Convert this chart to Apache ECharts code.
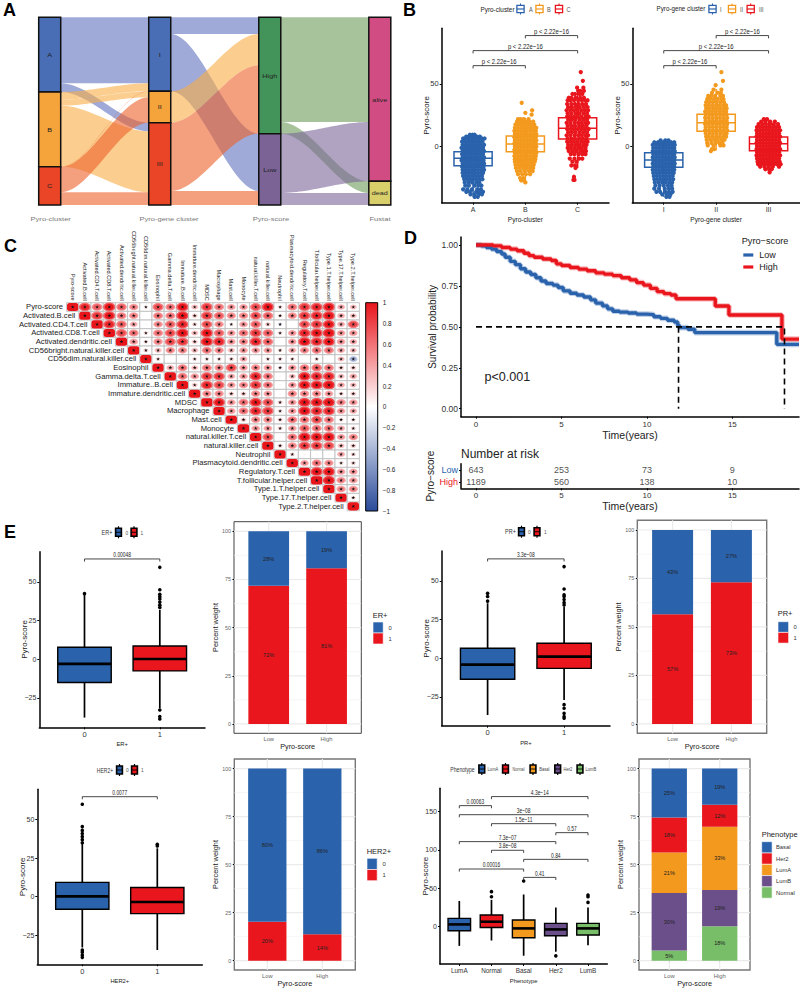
<!DOCTYPE html>
<html><head><meta charset="utf-8">
<style>html,body{margin:0;padding:0;background:#fff}#c{width:800px;height:988px}</style>
<script src="https://cdn.jsdelivr.net/npm/echarts@6/dist/echarts.min.js"></script></head>
<body><div id="c"></div>
<script>
// ---------- DATA ----------
const strata=[['A','B','C'],['I','II','III'],['High','Low'],['alive','dead']];
const stratumTitles=['Pyro-cluster','Pyro-gene cluster','Pyro-score','Fustat'];
const flowsClusterGene=[['A','I',198],['A','III',26],['B','I',23],['B','II',18],['B','III',183],['C','I',1],['C','II',76],['C','III',38]];
const flowsGeneScore=[['I','High',50],['I','Low',172],['II','High',94],['III','High',205],['III','Low',42]];
const flowsScoreFustat=[['High','alive',314],['High','dead',35],['Low','alive',178],['Low','dead',36]];

// jittered points, rows of [score,[jitter offsets in 1/100 category]]
const cloudA=[[9.5,[-6,-1,3]],[8,[-13,-8,-3,2,7,13]],[6.5,[-19,-15,-9,-4,1,6,12,17,22]],[4,[-21,-16,-10,-5,1,7,12,18]],[1.5,[-20,-14,-8,-2,4,10,15,21]],[-1,[-22,-17,-11,-5,1,7,13,19]],[-3.5,[-20,-14,-8,-2,4,10,16,21]],[-6,[-21,-16,-10,-4,2,8,14,19]],[-8.5,[-20,-14,-8,-2,4,10,16,21]],[-11,[-22,-16,-10,-4,2,8,14,20]],[-13.5,[-20,-14,-8,-2,4,10,16,21]],[-16,[-21,-15,-9,-3,3,9,15,20]],[-18.5,[-20,-14,-8,-2,4,10,16,21]],[-21,[-20,-15,-9,-3,3,9,15,19]],[-23.5,[-19,-13,-7,-1,5,11,17]],[-26,[-17,-11,-5,1,7,13,18]],[-28.5,[-16,-9,-2,6,12]],[-31,[-15,-8,3,10,16]],[-34,[-19,-11,-2,8,15]],[-36,[-13,-6,6,12,19]],[-38,[-5,3,11,17]],[-40,[3,9]]];
const cloudB=[[35,[-7]],[29,[13]],[27,[0]],[25.5,[12]],[22,[-14,-9,-3,6]],[20,[-16,-10,-4,2,8,15]],[17.5,[-19,-13,-7,-1,5,11,17]],[15,[-20,-14,-8,-2,4,10,16,21]],[12.5,[-21,-15,-9,-3,3,9,15,20]],[10,[-20,-14,-8,-2,4,10,16,21]],[7.5,[-21,-15,-9,-3,3,9,15,20]],[5,[-20,-14,-8,-2,4,10,16,21]],[2.5,[-21,-15,-9,-3,3,9,15,20]],[0,[-20,-14,-8,-2,4,10,16,21]],[-2.5,[-21,-15,-9,-3,3,9,15,20]],[-5,[-20,-14,-8,-2,4,10,16,21]],[-7.5,[-21,-15,-9,-3,3,9,15,20]],[-10,[-20,-14,-8,-2,4,10,16,19]],[-12,[-20,-15,-9,-3,3,9,15,18]],[-14.5,[-19,-13,-7,-1,5,11,16]],[-17,[-18,-11,-4,3,10,15]],[-19.5,[-16,-9,-1,7,14]],[-22,[-14,-6,1,9]],[-25,[-10,-4]],[-27,[-8,-3]],[-28.5,[0]]];
const cloudC=[[59.5,[6]],[52.5,[10]],[47,[-1,11]],[44.5,[1,5,12]],[42,[-10,-5,4,9]],[39,[-17,-12,-4,5,12]],[37,[-19,-14,-7,1,8,14,19]],[34,[-20,-12,-5,2,9,16]],[31.5,[-18,-11,-3,4,12,19]],[29,[-21,-14,-7,0,7,14,20]],[26.5,[-19,-12,-4,3,11,18]],[24,[-20,-14,-7,0,7,15,21]],[21.5,[-18,-11,-4,4,11,18]],[19,[-21,-14,-6,1,8,15,20]],[16.5,[-19,-12,-5,3,10,17]],[14,[-20,-13,-7,0,7,14,21]],[11.5,[-18,-11,-4,4,11,18]],[9,[-21,-14,-6,1,8,15,20]],[6.5,[-19,-12,-5,3,10,17]],[4,[-20,-13,-7,0,7,14,19]],[1.5,[-18,-11,-4,4,11,17]],[-1,[-19,-13,-6,1,8,15]],[-3.5,[-17,-10,-3,5,12,16]],[-6,[-13,-6,2,9,15]],[-9.5,[-15,-6,3,9]],[-12,[-10,-2]],[-15,[-12,-5]],[-17,[-4]],[-24,[-7]],[-26.5,[-8,-6]]];
const cloudI=[[5,[-6,3,9]],[3.5,[-18,-11,-4,2,8,14,20]],[1.5,[-21,-15,-9,-3,3,9,15,21]],[-1,[-20,-14,-8,-2,4,10,16,20]],[-3.5,[-21,-15,-9,-3,3,9,15,21]],[-6,[-20,-14,-8,-2,4,10,16,20]],[-8.5,[-21,-15,-9,-3,3,9,15,21]],[-11,[-20,-14,-8,-2,4,10,16,20]],[-13.5,[-21,-15,-9,-3,3,9,15,21]],[-16,[-20,-14,-8,-2,4,10,16,20]],[-18.5,[-21,-15,-9,-3,3,9,15,20]],[-21,[-20,-14,-8,-2,4,10,16,19]],[-23.5,[-19,-13,-7,-1,5,11,17]],[-26,[-18,-12,-6,0,6,12,18]],[-28.5,[-17,-10,-3,4,11,16]],[-31,[-16,-8,0,8,15]],[-33.5,[-18,-9,2,10,16]],[-36,[-14,-7,3,10,17]],[-38,[-3,6,13]],[-40,[5,11]]];
const cloudII=[[59.5,[10]],[52.5,[13]],[49,[-1]],[45.5,[-5,10]],[43,[-8,3,9]],[40.5,[-15,-9,-2,8,13]],[38,[-17,-11,-4,3,10,14]],[35.5,[-19,-13,-6,1,8,15]],[33,[-20,-14,-7,0,7,14,19]],[30.5,[-19,-12,-5,2,9,16,20]],[28,[-21,-15,-8,-1,6,13,19]],[25.5,[-20,-13,-6,1,8,15,20]],[23,[-21,-14,-7,0,7,14,21]],[20.5,[-20,-13,-6,1,8,15,20]],[18,[-21,-14,-7,0,7,14,21]],[15.5,[-20,-13,-6,1,8,15,20]],[13,[-21,-14,-7,0,7,14,21]],[10.5,[-20,-13,-6,1,8,15,20]],[8,[-19,-14,-7,0,7,14,19]],[5.5,[-18,-11,-4,3,10,16]],[3,[-17,-9,-1,6,12]],[1,[-16,-5,8,14]],[-2,[-8,-4]],[-3.5,[-10]]];
const cloudIII=[[22,[-9,-3]],[20,[-14,-6,3,12]],[18,[-19,-12,-5,3,10,18]],[15.5,[-22,-16,-10,-4,2,8,14,20]],[13,[-23,-17,-11,-5,1,7,13,19,22]],[10.5,[-22,-16,-10,-4,2,8,14,20]],[8,[-23,-17,-11,-5,1,7,13,19,22]],[5.5,[-22,-16,-10,-4,2,8,14,20]],[3,[-23,-17,-11,-5,1,7,13,19,22]],[0.5,[-22,-16,-10,-4,2,8,14,20]],[-2,[-23,-17,-11,-5,1,7,13,19,22]],[-4.5,[-22,-16,-10,-4,2,8,14,20]],[-7,[-23,-17,-11,-5,1,7,13,19,22]],[-9.5,[-22,-16,-10,-4,2,8,14,20]],[-12,[-21,-15,-9,-3,3,9,15,21]],[-14,[-20,-14,-8,-2,4,10,16,23]],[-16,[-16,-8,0,8,20]],[-18,[-6,1,6]],[-20.5,[2]]];
// box stats: [whisker low, q1, median, q3, whisker high]
const clusterBoxes=[[-40,-15.2,-9.3,-4,9.5],[-28,-4,2.1,8.5,23],[-17,6.1,14.6,23.1,45]];
const geneBoxes=[[-40,-16.5,-10.6,-4.8,5],[-3,12.2,19.1,25.8,46],[-19,-3.2,2.4,7.7,21]];
const clusterTickNames=['A','B','C'], geneTickNames=['I','II','III'];
const pLabel='p < 2.22e\u221216';

const corrNames=['Pyro-score','Activated.B.cell','Activated.CD4.T.cell','Activated.CD8.T.cell','Activated.dendritic.cell','CD56bright.natural.killer.cell','CD56dim.natural.killer.cell','Eosinophil','Gamma.delta.T.cell','Immature..B.cell','Immature.dendritic.cell','MDSC','Macrophage','Mast.cell','Monocyte','natural.killer.T.cell','natural.killer.cell','Neutrophil','Plasmacytoid.dendritic.cell','Regulatory.T.cell','T.follicular.helper.cell','Type.1.T.helper.cell','Type.17.T.helper.cell','Type.2.T.helper.cell'];
const corrRows=[
[1,.6,.45,.65,.45,.35,.08,.5,.4,.65,.2,.55,.4,.3,.3,.5,.65,.1,.4,.55,.6,.65,.25,.2],
[1,.55,.65,.4,.35,0,.4,.4,.7,.15,.55,.45,.35,.35,.5,.45,.1,.35,.55,.6,.7,.25,.2],
[1,.6,.45,.25,.02,.35,.45,.6,.12,.5,.35,.08,.3,.45,.15,-.1,0,.5,.55,.65,.25,.5],
[1,.5,.4,.1,.4,.5,.7,.2,.65,.45,.3,.4,.55,.45,.1,.3,.6,.65,.75,.3,.3],
[1,.3,.1,.35,.5,.55,.15,.7,.6,.3,.35,.6,.45,0,.3,.7,.6,.65,.3,.25],
[1,.12,.2,.35,.35,.2,.4,.35,.2,.3,.3,.3,.1,.25,.35,.4,.4,.25,.2],
[1,.1,0,0,.1,.1,.1,.12,.25,0,.1,.1,.1,0,.1,0,.2,-.3],
[1,.25,.4,.2,.4,.35,.5,.3,.35,.3,.1,.3,.4,.45,.4,.15,.15],
[1,.4,.3,.55,.55,.25,.3,.6,.4,.02,.2,.65,.6,.6,.2,.25],
[1,.15,.6,.5,.3,.35,.55,.4,.02,.3,.65,.65,.75,.25,.2],
[1,.35,.35,.15,.15,.35,.3,.02,.35,.35,.35,.3,.12,.15],
[1,.65,.3,.4,.65,.5,.12,.3,.7,.7,.75,.35,.3],
[1,.3,.4,.6,.55,.1,.3,.7,.6,.6,.3,.25],
[1,.15,.35,.35,.12,.4,.4,.5,.4,.1,.1],
[1,.3,.3,.12,.3,.45,.4,.4,.25,.12],
[1,.5,.02,.4,.7,.65,.7,.3,.35],
[1,.12,.35,.55,.55,.5,.2,.15],
[1,.1,.03,.02,.02,.25,.12],
[1,.3,.4,.35,.1,.12],
[1,.7,.7,.3,.3],
[1,.75,.35,.3],
[1,.35,.35],
[1,.1],
[1]];
const colorbarTicks=[-1,-.8,-.6,-.4,-.2,0,.2,.4,.6,.8,1];

const survLow=[[0,1],[.3,.995],[.6,.985],[.9,.975],[1.2,.96],[1.5,.945],[1.7,.925],[2,.9],[2.3,.88],[2.6,.855],[2.9,.835],[3.2,.82],[3.5,.8],[3.8,.78],[4.1,.765],[4.5,.755],[4.8,.74],[5.1,.72],[5.5,.705],[5.9,.695],[6.3,.682],[6.7,.665],[7,.645],[7.4,.628],[7.7,.61],[8,.595],[8.4,.59],[8.9,.585],[9.4,.578],[10,.575],[10.4,.562],[10.8,.552],[11.2,.54],[11.6,.53],[11.8,.51],[11.9,.495],[12.4,.485],[12.8,.465],[17.6,.465],[17.6,.393],[18.9,.393]];
const survHigh=[[0,1],[.5,1],[1,.995],[1.5,.985],[2,.975],[2.4,.965],[2.8,.95],[3.1,.935],[3.4,.925],[3.9,.915],[4.4,.905],[4.7,.885],[5,.875],[5.5,.863],[6,.853],[6.5,.843],[7,.83],[7.5,.822],[8,.813],[8.5,.8],[9,.787],[9.4,.77],[9.8,.755],[10.2,.735],[10.6,.715],[11,.703],[11.4,.695],[11.7,.672],[14,.672],[14,.627],[14.8,.627],[14.8,.572],[17.9,.572],[17.9,.425],[18.9,.425]];
const medianGuide=[[0,.5],[18.05,.5],[18.05,0]], medianGuide2=[[11.85,.5],[11.85,0]];
const riskTimes=[0,5,10,15], riskLow=[643,253,73,9], riskHigh=[1189,560,138,10];

const erBoxes=[[-37.7,-15,-3,7.8,42],[-31.7,-7.5,.2,8.6,32]];
const erOut=[[42.5],[59.5,45,42,40.5,39,37,35,33.5,-32.8,-37,-38.6]];
const prBoxes=[[-36.7,-13.6,-4.1,6.5,35.6],[-27,-6.5,1.1,9.7,33.4]];
const prOut=[[42,40,37],[59.3,44.8,41,40,38,36,34.5,-30,-32.3,-35.6,-37.7,-38.8]];
const herBoxes=[[-33,-8.2,.2,9.3,34.6],[-34.6,-11,-3.5,6,31.4]];
const herOut=[[60,45.5,43,41,39,37,35,-34.6,-36,-37.9,-39.4],[34,32.9]];
const phenoNames=['LumA','Normal','Basal','Her2','LumB'];
const phenoBoxes=[[-25,-5.2,3,10.9,33.5],[-18,-1,6.5,15.2,35],[-37.8,-14.3,-2.2,8.7,42],[-32.6,-11.7,-3.5,4.3,25],[-24,-10.9,-2.2,4.3,25]];
const phenoOut=[[],[45.7,39],[59.6],[-38],[41.3,39,31.7]];
const phenoBrackets=[[3,4,64.3,'0.41'],[1,3,75.2,'0.00016'],[3,5,87.8,'0.84'],[2,3,99.6,'3.8e\u221208'],[1,4,110.9,'7.3e\u221207'],[4,5,122.6,'0.57'],[2,4,134.3,'1.5e\u221211'],[1,5,146,'3e\u221208'],[1,2,157.8,'0.00063'],[2,5,169.6,'4.3e\u221214']];

const scoreGroups=['Low','High'];
const erStack={'1':[71.7,80.8],'0':[28.3,19.2]};
const prStack={'1':[56.6,73.1],'0':[43.4,26.9]};
const herStack={'1':[20.3,13.7],'0':[79.7,86.3]};
const phenoStack={Normal:[5.3,17.9],LumB:[29.9,18.9],LumA:[21.1,32.9],Her2:[18.3,11.5],Basal:[25.4,18.8]};

// ---------- STYLE / HELPERS ----------
const SANS='Liberation Sans';
const BLUE='#2A63AC',RED='#E9161D',ORANGE='#F39A1E',PURPLE='#6B4F8A',GREEN='#78BE68';
const grids=[],xAxes=[],yAxes=[],series=[],gfx=[];
function panel(r,xr,yr,xo,yo,g){
  grids.push(Object.assign({left:r[0],top:r[1],width:r[2]-r[0],height:r[3]-r[1]},g||{}));
  const i=grids.length-1;
  xAxes.push(Object.assign({gridIndex:i,type:'value',min:xr[0],max:xr[1],scale:true},xo));
  yAxes.push(Object.assign({gridIndex:i,type:'value',min:yr[0],max:yr[1],scale:true},yo));
  return i;
}
const hidden={show:false,splitLine:{show:false}};
function classic(vals,names,o){o=o||{};
  return {axisLine:{show:true,onZero:false,lineStyle:{color:'#000',width:o.lw||1.5}},
    axisTick:{show:true,customValues:vals,length:o.tick||2,lineStyle:{color:'#000',width:1}},
    axisLabel:{show:true,customValues:vals,formatter:v=>names?names[vals.indexOf(v)]:String(v).replace('-','\u2212'),
      fontFamily:SANS,fontSize:o.size||7,color:o.color||'#333',margin:o.margin||3},
    splitLine:{show:false},splitArea:{show:false},
    name:o.name||'',nameLocation:'middle',nameGap:o.gap||12,nameMoveOverlap:false,
    nameTextStyle:{fontFamily:SANS,fontSize:o.nsize||7,color:'#222'}};
}
function text(t,x,y,o){o=o||{};
  gfx.push({type:'text',x:x,y:y,scaleX:o.sx||1,rotation:o.rot||0,silent:true,z:50,style:{text:t,fontFamily:SANS,fontSize:o.size||7,fontWeight:o.weight||'normal',
    fill:o.color||'#222',align:o.align||'left',textAlign:o.align||'left',verticalAlign:'middle',textVerticalAlign:'middle'}});
}
function rectG(x,y,w,h,fill,stroke,lw){gfx.push({type:'rect',silent:true,z:49,shape:{x,y,width:w,height:h},style:{fill:fill||'none',stroke:stroke||'none',lineWidth:lw||0}});}
function lineG(x1,y1,x2,y2,c,lw,z){gfx.push({type:'line',silent:true,z:z||50,shape:{x1,y1,x2,y2},style:{stroke:c,lineWidth:lw}});}
function iconOutline(cx,cy,c){lineG(cx,cy-5.5,cx,cy+5.5,c,1.1,48);rectG(cx-3.6,cy-3.6,7.2,7.2,'#fff',c,1.3);lineG(cx-3.6,cy,cx+3.6,cy,c,1.2);}
function iconDark(cx,cy,c){lineG(cx,cy-6,cx,cy+6,'#000',1.2,48);rectG(cx-2.9,cy-4,5.8,8,c,'#000',1.6);lineG(cx-2.9,cy,cx+2.9,cy,'#000',0.9);}
function boxSeries(g,x,stat,color,o){
  const w=o.w,sw=o.sw,mw=o.mw,line=o.line,fill=o.fill;
  series.push({type:'custom',xAxisIndex:g,yAxisIndex:g,z:o.z||3,clip:false,silent:true,encode:{x:0,y:[1,2,3,4,5]},
    data:[[x].concat(stat)],
    renderItem:(p,api)=>{
      const v=[1,2,3,4,5].map(i=>api.value(i)),X=api.value(0);
      const hw=api.size([w,0])[0]/2,c=api.coord([X,0])[0];
      const Y=v.map(q=>api.coord([X,q])[1]);
      return {type:'group',children:[
        {type:'line',shape:{x1:c,y1:Y[0],x2:c,y2:Y[1]},style:{stroke:line,lineWidth:o.wl}},
        {type:'line',shape:{x1:c,y1:Y[3],x2:c,y2:Y[4]},style:{stroke:line,lineWidth:o.wl}},
        {type:'rect',shape:{x:c-hw,y:Y[3],width:2*hw,height:Y[1]-Y[3]},style:{fill:fill||color,stroke:line,lineWidth:sw}},
        {type:'line',shape:{x1:c-hw,y1:Y[2],x2:c+hw,y2:Y[2]},style:{stroke:line,lineWidth:mw}}]};
    }});
}
function outliers(g,x,vals){
  if(!vals.length)return;
  series.push({type:'scatter',xAxisIndex:g,yAxisIndex:g,z:4,silent:true,symbolSize:3.6,itemStyle:{color:'#000',opacity:1},data:vals.map(v=>[x,v])});
}
function brackets(g,rows,tip,size,sx){
  series.push({type:'custom',xAxisIndex:g,yAxisIndex:g,z:6,clip:false,silent:true,encode:{x:[0,1],y:2},
    data:rows.map(r=>r.slice(0,3)),
    renderItem:(p,api)=>{
      const a=api.coord([api.value(0),api.value(2)]),b=api.coord([api.value(1),api.value(2)]);
      return {type:'group',children:[
        {type:'polyline',shape:{points:[[a[0],a[1]+tip],[a[0],a[1]],[b[0],b[1]],[b[0],b[1]+tip]]},style:{stroke:'#333',lineWidth:.9,fill:'none'}},
        {type:'text',x:(a[0]+b[0])/2,y:a[1]-.6,scaleX:sx,style:{text:rows[p.dataIndex][3],fontFamily:SANS,fontSize:size,fill:'#222',align:'center',textAlign:'center',verticalAlign:'bottom',textVerticalAlign:'bottom'}}]};
    }});
}
function cloud(g,x,rows,color){
  const d=[];rows.forEach(r=>r[1].forEach(dx=>d.push([x+dx/100,r[0]])));
  series.push({type:'scatter',xAxisIndex:g,yAxisIndex:g,z:5,silent:true,symbolSize:4.3,itemStyle:{color:color,opacity:1},data:d});
}

// ---------- A: alluvial ----------
(function(){
  const g=panel([49.7,17.3,379.8,205],[0,3],[0,563],hidden,Object.assign({inverse:true},hidden));
  const nodeColor={A:'#4A6EB5',B:'#F5A33B',C:'#EA4527',I:'#4A6EB5',II:'#F5A33B',III:'#EA4527',High:'#42945A',Low:'#7B6396',alive:'#D04C82',dead:'#D8CF6B'};
  const ribbonColor={A:'rgb(95,113,190)',B:'rgb(248,173,70)',C:'rgb(237,97,42)',I:'rgb(95,113,190)',II:'rgb(248,173,70)',III:'rgb(237,97,42)',High:'rgb(108,155,90)',Low:'rgb(123,102,152)'};
  const sets=[flowsClusterGene,flowsGeneScore,flowsScoreFustat];
  const tops={},sizes={};
  strata.forEach((col,c)=>{
    let y=0;col.forEach(n=>{
      const fl=c<3?sets[c].filter(f=>f[0]===n):sets[2].filter(f=>f[1]===n);
      const s=fl.reduce((a,f)=>a+f[2],0);tops[n]=y;sizes[n]=s;y+=s;});
  });
  const rib=[],ribColors=[];
  sets.forEach((set,c)=>{
    const L=Object.assign({},tops),R=Object.assign({},tops);
    set.forEach(f=>{rib.push([c,L[f[0]],L[f[0]]+f[2],R[f[1]],R[f[1]]+f[2]]);ribColors.push(ribbonColor[f[0]]);L[f[0]]+=f[2];R[f[1]]+=f[2];});
  });
  series.push({type:'custom',xAxisIndex:g,yAxisIndex:g,z:2,silent:true,encode:{x:0,y:[1,2,3,4]},data:rib,
    renderItem:(p,api)=>{
      const c=api.value(0),x0=c+.1,x1=c+.9,v=[1,2,3,4].map(i=>api.value(i)),n=28,top=[],bot=[];
      for(let i=0;i<=n;i++){const t=i/n,s=t*t*(3-2*t),x=x0+(x1-x0)*t;
        top.push(api.coord([x,v[0]+(v[2]-v[0])*s]));bot.unshift(api.coord([x,v[1]+(v[3]-v[1])*s]));}
      return {type:'polygon',shape:{points:top.concat(bot)},style:{fill:ribColors[p.dataIndex],opacity:.6}};
    }});
  const nodes=[];strata.forEach((col,c)=>col.forEach(n=>nodes.push([c,tops[n],tops[n]+sizes[n],n])));
  series.push({type:'custom',xAxisIndex:g,yAxisIndex:g,z:3,silent:true,encode:{x:0,y:[1,2]},data:nodes.map(n=>n.slice(0,3)),
    renderItem:(p,api)=>{
      const a=api.coord([api.value(0)-.1,api.value(1)]),b=api.coord([api.value(0)+.1,api.value(2)]),nm=nodes[p.dataIndex][3];
      return {type:'group',children:[
        {type:'rect',shape:{x:a[0],y:a[1],width:b[0]-a[0],height:b[1]-a[1]},style:{fill:nodeColor[nm],stroke:'#111',lineWidth:1.5}},
        {type:'text',x:(a[0]+b[0])/2,y:(a[1]+b[1])/2,scaleX:1.25,style:{text:nm,fontFamily:SANS,fontSize:5.8,fill:'#222',align:'center',textAlign:'center',verticalAlign:'middle',textVerticalAlign:'middle'}}]};
    }});
  [50.7,169,271,380].forEach((x,i)=>text(stratumTitles[i],x,219,{size:6.2,sx:1.22,color:'#777',align:'center'}));
})();

// ---------- B ----------
function bPanel(r,names,boxes,clouds,axisName){
  const ticks=[1,2,3];
  const g=panel(r,[.4,3.6],[-44.7,94.4],
    classic(ticks,names,{name:axisName,gap:13,size:7,nsize:6.6}),
    classic([0,50],null,{name:'Pyro-score',gap:11,size:7.5,nsize:8}));
  const cols=[BLUE,ORANGE,RED];
  boxes.forEach((b,i)=>{boxSeries(g,i+1,b,cols[i],{w:.73,sw:1.5,mw:1.5,wl:1.5,line:cols[i],fill:'#fff'});cloud(g,i+1,clouds[i],cols[i]);});
  brackets(g,[[1,2,64.6,pLabel],[1,3,76.6,pLabel],[2,3,88.6,pLabel]],2.8,7.6,.78);
}
bPanel([441.7,28.3,609,202.7],clusterTickNames,clusterBoxes,[cloudA,cloudB,cloudC],'Pyro-cluster');
bPanel([632.3,28.3,800,202.7],geneTickNames,geneBoxes,[cloudI,cloudII,cloudIII],'Pyro-gene cluster');
text('Pyro-cluster',497.5,9,{size:8,sx:.8,align:'center'});
iconOutline(520.5,9,BLUE);text('A',529,9,{size:7,sx:.8,color:'#555'});
iconOutline(539.5,9,ORANGE);text('B',547,9,{size:7,sx:.8,color:'#555'});
iconOutline(559,9,RED);text('C',566.5,9,{size:7,sx:.8,color:'#555'});
text('Pyro-gene cluster',681,9,{size:8,sx:.78,align:'center'});
iconOutline(712.5,9,BLUE);text('I',720,9,{size:7,sx:.8,color:'#555'});
iconOutline(732,9,ORANGE);text('II',740,9,{size:7,sx:.8,color:'#555'});
iconOutline(750.7,9,RED);text('III',759,9,{size:7,sx:.8,color:'#555'});

// ---------- C ----------
(function(){
  grids.push({left:66.6,top:302.7,width:292.8,height:208});
  const g=grids.length-1;
  xAxes.push({gridIndex:g,type:'category',position:'top',data:corrNames,axisLine:{show:false},axisTick:{show:false},splitLine:{show:false},
    axisLabel:{interval:0,rotate:90,fontFamily:SANS,fontSize:5.6,color:'#222',margin:2}});
  yAxes.push({gridIndex:g,type:'category',inverse:true,data:corrNames,axisLine:{show:false},axisTick:{show:false},splitLine:{show:false},axisLabel:{show:false}});
  const cells=[];corrRows.forEach((row,i)=>row.forEach((v,k)=>cells.push([i+k,i,v])));
  const hex=c=>[parseInt(c.slice(1,3),16),parseInt(c.slice(3,5),16),parseInt(c.slice(5,7),16)];
  const lo=hex('#2A4B9B'),hi=hex('#E8151B');
  const cmap=v=>{const t=Math.min(1,Math.abs(v)),e=v<0?lo:hi;return 'rgb('+e.map(q=>Math.round(255+(q-255)*t)).join(',')+')';};
  series.push({type:'custom',xAxisIndex:g,yAxisIndex:g,z:3,silent:true,encode:{x:0,y:1},data:cells,
    renderItem:(p,api)=>{
      const c=api.coord([api.value(0),api.value(1)]),s=api.size([1,1]),v=api.value(2),W=s[0],H=s[1],a=Math.abs(v);
      const kids=[{type:'rect',shape:{x:c[0]-W/2,y:c[1]-H/2,width:W,height:H},style:{fill:'#fff',stroke:'#BFBFBF',lineWidth:.9}}];
      if(v===1){kids.push({type:'rect',shape:{x:c[0]-W/2+.4,y:c[1]-H/2+.3,width:W-.8,height:H-.6,r:2.5},style:{fill:cmap(1)}});}
      else if(a>=.01){const k=Math.min(1.02,Math.sqrt(a)*1.3);
        kids.push({type:'ellipse',shape:{cx:c[0],cy:c[1],rx:W/2*k,ry:H/2*k},style:{fill:cmap(v*1.0+.04)}});
        kids.push({type:'ellipse',shape:{cx:c[0],cy:c[1],rx:W/2*k*.72,ry:H/2*k*.72},style:{fill:cmap(v*1.55)}});}
      if(a>=.05){const pts=[];for(let i=0;i<10;i++){const R=i%2?.75:1.9,t=-Math.PI/2+i*Math.PI/5;pts.push([c[0]+R*Math.cos(t),c[1]+R*Math.sin(t)]);}
        kids.push({type:'polygon',shape:{points:pts},style:{fill:'#111'}});}
      return {type:'group',children:kids};
    }});
  series.push({type:'custom',xAxisIndex:g,yAxisIndex:g,z:3,silent:true,encode:{x:0,y:1},data:corrNames.map((n,i)=>[i,i]),
    renderItem:(p,api)=>{
      const c=api.coord([api.value(0),api.value(1)]),s=api.size([1,1]);
      return {type:'text',x:c[0]-s[0]/2-3.5,y:c[1],scaleX:1.2,style:{text:corrNames[p.dataIndex],fontFamily:SANS,fontSize:6.4,fill:'#222',align:'right',textAlign:'right',verticalAlign:'middle',textVerticalAlign:'middle'}};
    }});
  // colour bar
  const cb=panel([365.7,302.7,377.7,511],[0,1],[-1,1],hidden,
    {position:'right',axisLine:{show:false},axisTick:{show:false},splitLine:{show:false},
     axisLabel:{show:true,customValues:colorbarTicks,formatter:v=>String(v).replace('-','\u2212'),fontFamily:SANS,fontSize:6.4,color:'#222',margin:5}});
  series.push({type:'custom',xAxisIndex:cb,yAxisIndex:cb,z:3,silent:true,encode:{x:0,y:1},data:[[0,-1,1,1]],
    renderItem:(p,api)=>{
      const a=api.coord([0,1]),b=api.coord([1,-1]);
      return {type:'rect',shape:{x:a[0],y:a[1],width:b[0]-a[0],height:b[1]-a[1]},style:{stroke:'#000',lineWidth:1,
        fill:new echarts.graphic.LinearGradient(0,0,0,1,[{offset:0,color:'#E8151B'},{offset:.5,color:'#FFFFFF'},{offset:1,color:'#2A4B9B'}])}};
    }});
})();

// ---------- D ----------
(function(){
  const g=panel([461,237,799,416.7],[-.88,18.9],[-.049,1.049],
    classic(riskTimes,riskTimes.map(String),{size:8,name:'Time(years)',gap:13,nsize:10.5,margin:4}),
    classic([0,.25,.5,.75,1],['0.00','0.25','0.50','0.75','1.00'],{size:8.5,name:'Survival probability',gap:24,nsize:10}));
  const line=(d,c,w,o,z)=>series.push({type:'line',xAxisIndex:g,yAxisIndex:g,step:'end',showSymbol:false,symbol:'none',silent:true,z:z,lineStyle:{color:c,width:w,opacity:o},data:d});
  line(survLow,BLUE,5.6,.3,2);line(survHigh,RED,5.6,.3,2);line(survLow,BLUE,3.4,1,3);line(survHigh,RED,3.4,1,4);
  [medianGuide,medianGuide2].forEach(d=>series.push({type:'line',xAxisIndex:g,yAxisIndex:g,showSymbol:false,symbol:'none',silent:true,z:5,lineStyle:{color:'#000',width:1.6,type:[6,4]},data:d}));
  text('p<0.001',484.5,376.7,{size:12.6,color:'#222'});
  text('Pyro\u2212score',741.7,240.7,{size:9.2,color:'#222'});
  rectG(743.3,253.4,10,3.2,BLUE);text('Low',759.3,255,{size:9});
  rectG(743.3,265.4,10,3.2,RED);text('High',759.3,267,{size:9});
  // risk table
  grids.push({left:461,top:463.7,width:338,height:24.6});
  const r=grids.length-1;
  xAxes.push(Object.assign({gridIndex:r,type:'value',min:-.88,max:18.9,scale:true},classic(riskTimes,riskTimes.map(String),{size:8,name:'Time(years)',gap:12.5,nsize:10.5,margin:3})));
  yAxes.push({gridIndex:r,type:'category',inverse:true,data:['Low','High'],axisLine:{show:true,onZero:false,lineStyle:{color:'#000',width:1.5}},axisTick:{show:true,length:2,alignWithLabel:true,lineStyle:{color:'#000'}},
    axisLabel:{fontFamily:SANS,fontSize:9,margin:3,color:v=>v==='Low'?BLUE:RED},splitLine:{show:false},
    name:'Pyro\u2212score',nameLocation:'middle',nameGap:26,nameMoveOverlap:false,nameTextStyle:{fontFamily:SANS,fontSize:10,color:'#222'}});
  [['Low',riskLow],['High',riskHigh]].forEach(rw=>series.push({type:'scatter',xAxisIndex:r,yAxisIndex:r,silent:true,symbolSize:.1,
    data:riskTimes.map((t,i)=>[t,rw[0],rw[1][i]]),
    label:{show:true,position:'inside',formatter:p=>String(p.value[2]),fontFamily:SANS,fontSize:9,color:'#222'}}));
  text('Number at risk',461,453.7,{size:12,color:'#222'});
})();

// ---------- E ----------
function boxPanel(r,yr,xr,names,boxes,outs,cols,axName,o){
  const vals=names.map((n,i)=>i+1);
  const g=panel(r,xr,yr,
    classic(vals,names,{name:axName,gap:o.xgap||14,size:o.ts||7.5,nsize:5.8,margin:3}),
    classic(o.yt||[-25,0,25,50],null,{name:'Pyro-score',gap:11,size:7,nsize:8}));
  boxes.forEach((b,i)=>{boxSeries(g,i+1,b,cols[i],{w:o.w||.71,sw:1.4,mw:2.6,wl:1.7,line:'#000'});outliers(g,i+1,outs[i]);});
  return g;
}
const bwMajor=[0,25,50,75,100],bwMinor=[12.5,37.5,62.5,87.5];
function stackPanel(r,stack,order,cols,barW,bc,blw){
  const g=panel(r,[.4,2.6],[-4.85,105],
    Object.assign(classic([1,2],scoreGroups,{size:5.8,color:'#666',tick:1.5,name:'Pyro-score',gap:10,nsize:7.2,margin:3}),{axisLine:{show:false}}),
    Object.assign(classic(bwMajor,bwMajor.map(String),{size:5.4,color:'#666',tick:1.5,name:'Percent weight',gap:15,nsize:7.4,margin:3}),{axisLine:{show:false}}),
    {show:true,borderColor:bc,borderWidth:blw,backgroundColor:'rgba(0,0,0,0)'});
  series.push({type:'custom',xAxisIndex:g,yAxisIndex:g,z:1,silent:true,encode:{x:0,y:1},data:[[1,0]],
    renderItem:(p,api)=>{
      const a=api.coord([.4,105]),b=api.coord([2.6,-4.85]),k=[];
      bwMinor.forEach(v=>{const y=api.coord([1,v])[1];k.push({type:'line',shape:{x1:a[0],y1:y,x2:b[0],y2:y},style:{stroke:'#F0F0F0',lineWidth:.6}});});
      bwMajor.forEach(v=>{const y=api.coord([1,v])[1];k.push({type:'line',shape:{x1:a[0],y1:y,x2:b[0],y2:y},style:{stroke:'#EBEBEB',lineWidth:1.2}});});
      [1,2].forEach(v=>{const x=api.coord([v,0])[0];k.push({type:'line',shape:{x1:x,y1:a[1],x2:x,y2:b[1]},style:{stroke:'#EBEBEB',lineWidth:1.2}});});
      return {type:'group',children:k};
    }});
  // stacked rectangles: [group position, stack base, stack top]
  const base=[0,0];
  order.forEach((key,i)=>{
    const d=stack[key].map((v,k)=>{const row=[k+1,base[k],base[k]+v,v];base[k]+=v;return row;});
    series.push({type:'custom',xAxisIndex:g,yAxisIndex:g,z:3,name:key,silent:true,encode:{x:0,y:[1,2]},data:d,
      renderItem:(p,api)=>{
        const a=api.coord([api.value(0),api.value(2)]),b=api.coord([api.value(0),api.value(1)]);
        return {type:'group',children:[
          {type:'rect',shape:{x:a[0]-barW/2,y:a[1],width:barW,height:b[1]-a[1]},style:{fill:cols[i]}},
          {type:'text',x:a[0],y:(a[1]+b[1])/2,style:{text:Math.round(api.value(3))+'%',fontFamily:SANS,fontSize:5.6,fill:'#222',align:'center',textAlign:'center',verticalAlign:'middle',textVerticalAlign:'middle'}}]};
      }});
  });
}
function keyLegend(title,x,ty,sx,sy,sw,sh,items,cols,lx,ts){
  text(title,x,ty,{size:ts||7.5,color:'#222'});
  items.forEach((t,i)=>{rectG(sx,sy+i*sh,sw,sh,cols[i],'#fff',.6);text(t,lx,sy+i*sh+sh/2,{size:5.8,color:'#333'});});
}
// ER
boxPanel([39.3,551.7,205,727.3],[-44,69.6],[.4,2.6],['0','1'],erBoxes,erOut,[BLUE,RED],'ER+',{});
brackets(grids.length-1,[[1,2,64.9,'0.00048']],2.6,6.8,.72);
text('ER+',107,532.3,{size:7,sx:.78,color:'#333',align:'center'});
iconDark(118.5,532.3,BLUE);text('0',125.5,532.3,{size:6,sx:.8,color:'#555'});iconDark(134,532.3,RED);text('1',140.5,532.3,{size:6,sx:.8,color:'#555'});
stackPanel([234,521.7,361.3,733.3],erStack,['1','0'],[RED,BLUE],40.7,'#444',1);
keyLegend('ER+',372.7,615,373,622,10.2,11,['0','1'],[BLUE,RED],388.5);
// PR
boxPanel([441.7,551,610,725.7],[-43.6,69.4],[.4,2.6],['0','1'],prBoxes,prOut,[BLUE,RED],'PR+',{});
brackets(grids.length-1,[[1,2,64.3,'3.3e\u221208']],2.6,6.8,.72);
text('PR+',510.5,531.7,{size:7,sx:.78,color:'#333',align:'center'});
iconDark(521.5,531.7,BLUE);text('0',528,531.7,{size:6,sx:.8,color:'#555'});iconDark(537,531.7,RED);text('1',544,531.7,{size:6,sx:.8,color:'#555'});
stackPanel([637.3,520.3,766.7,733.3],prStack,['1','0'],[RED,BLUE],41,'#777',1.4);
keyLegend('PR+',777.7,613.7,778,621.7,10.6,10.7,['0','1'],[BLUE,RED],793.5);
// HER2
boxPanel([37.3,789.3,202.3,964.3],[-43.9,69.7],[.4,2.6],['0','1'],herBoxes,herOut,[BLUE,RED],'HER2+',{});
brackets(grids.length-1,[[1,2,64.9,'0.0077']],2.6,6.8,.72);
text('HER2+',105,770,{size:7,sx:.72,color:'#333',align:'center'});
iconDark(119.5,770,BLUE);text('0',126,770,{size:6,sx:.8,color:'#555'});iconDark(134.5,770,RED);text('1',141,770,{size:6,sx:.8,color:'#555'});
stackPanel([234.3,759,355.3,970],herStack,['1','0'],[RED,BLUE],38.3,'#777',1.4);
keyLegend('HER2+',366.7,851,367,858.3,10.2,11.2,['0','1'],[BLUE,RED],382.5);
// Phenotype
boxPanel([440,788.3,607.3,964],[-48.6,180.4],[.4,5.6],phenoNames,phenoBoxes,phenoOut,[BLUE,RED,ORANGE,PURPLE,GREEN],'Phenotype',{yt:[0,50,100,150],w:.7,ts:6.4});
brackets(grids.length-1,phenoBrackets,2.6,6.8,.72);
text('Phenotype',462.5,769,{size:7,sx:.73,color:'#333',align:'center'});
[[481.8,BLUE,'LumA',487.6,.68],[505.5,RED,'Normal',512.5,.62],[533,ORANGE,'Basal',539.3,.68],[557.7,PURPLE,'Her2',563.5,.68],[580,GREEN,'LumB',585.5,.68]].forEach(l=>{iconDark(l[0],769,l[1]);text(l[2],l[3],769,{size:6,sx:l[4],color:'#444'});});
stackPanel([639,759,750,970],phenoStack,['Normal','LumB','LumA','Her2','Basal'],[GREEN,PURPLE,ORANGE,RED,BLUE],35.3,'#777',1.4);
keyLegend('Phenotype',761.7,834,761.7,841.7,10.4,11.3,['Basal','Her2','LumA','LumB','Normal'],[BLUE,RED,ORANGE,PURPLE,GREEN],776,7.5);

// panel letters
[['A',3,10],['B',403,10],['C',4,245.7],['D',404,238],['E',4,532]].forEach(l=>text(l[0],l[1],l[2],{size:18,weight:'bold',color:'#000'}));

const chart=echarts.init(document.getElementById('c'),null,{renderer:'svg',width:800,height:988});
chart.setOption({animation:false,backgroundColor:'#fff',grid:grids,xAxis:xAxes,yAxis:yAxes,series:series,graphic:{elements:gfx}});
</script></body></html>
